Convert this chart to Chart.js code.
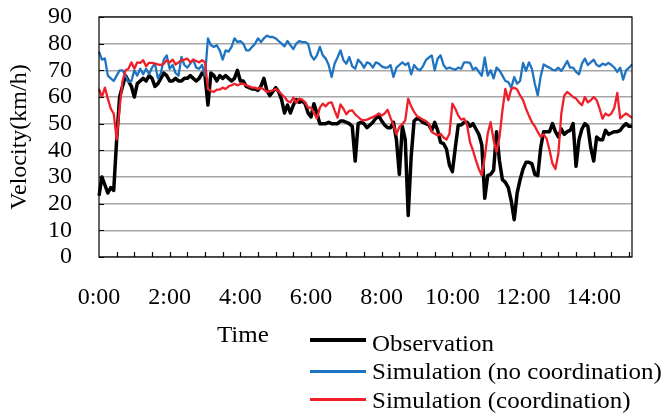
<!DOCTYPE html>
<html>
<head>
<meta charset="utf-8">
<script src="https://cdn.jsdelivr.net/npm/chart.js@4.4.1/dist/chart.umd.min.js"></script>
<style>
  html, body { margin: 0; padding: 0; background: #fff; }
  #wrap { position: relative; width: 666px; height: 414px; font-family: "Liberation Serif", "Times New Roman", serif; }
  #chart { position: absolute; left: 0; top: 0; }
  .lbl { position: absolute; font-size: 24px; line-height: 24px; color: #000; white-space: nowrap; transform-origin: 0 0; transform: scaleX(1.04); }
  .key { position: absolute; left: 310px; width: 56px; }
</style>
</head>
<body>
<div id="wrap">
  <canvas id="chart" width="666" height="414"></canvas>
  <div class="lbl" style="left:217px; top:322px;">Time</div>
  <div class="key" style="top:338px; height:4px; background:#000;"></div>
  <div class="lbl" style="left:372px; top:331px;">Observation</div>
  <div class="key" style="top:370px; height:2.5px; background:#1f74c1;"></div>
  <div class="lbl" style="left:372px; top:359px;">Simulation (no coordination)</div>
  <div class="key" style="top:398px; height:2.5px; background:#f0202a;"></div>
  <div class="lbl" style="left:372px; top:388px;">Simulation (coordination)</div>
</div>
<script>
(function(){
  // one sample every 5 s, 0:00 .. 15:05
  const SAMPLE_SECONDS = 5;
  const TICK_LABELS = ['0:00', '2:00', '4:00', '6:00', '8:00', '10:00', '12:00', '14:00'];
  const LABEL_EVERY = 24;   // samples between labels (2 min)
  const MARK_EVERY = 6;     // samples between tick marks (30 s)
  const Y_TICKS = [0, 10, 20, 30, 40, 50, 60, 70, 80, 90];

  const OBSERVATION = [
    23, 30, 27, 24, 26, 25, 44, 60, 64, 68,
    66, 64, 60, 65, 66, 67, 66, 68, 67, 64,
    65, 67, 69, 68, 66, 66, 67, 66, 66, 67,
    67, 68, 67, 66, 67, 69, 68, 57, 69, 68,
    66, 68, 67, 68, 67, 66, 67, 70, 66, 66,
    64, 63.5, 63, 63, 62.5, 64, 67, 62.5, 60.5, 62,
    63.5, 62, 59, 54, 57, 54, 57, 59, 58, 58.5,
    57.5, 54, 52.5, 57.5, 54, 50, 50, 50, 50.5, 50,
    50, 50, 51, 51, 50.5, 50, 49, 36, 50, 50.5,
    50, 48.5, 49.5, 50.5, 52, 53, 51, 49.5, 48.5, 48.5,
    50.5, 44, 31, 49, 44, 15.6, 37.5, 51, 52, 51.5,
    50.5, 50, 49.5, 47.5, 50.5, 47.5, 43, 42.5, 40.5, 34.5,
    32, 41, 49.5, 49.5, 50.5, 50.5, 49, 50, 48, 46,
    42, 22, 30.5, 31, 32.5, 47, 36, 29, 28, 26,
    21, 14, 24, 29, 33, 35.5, 35.5, 35, 31, 30.5,
    41, 47, 47, 47, 50, 47, 45, 48, 46, 47,
    47.5, 50, 34, 44, 48, 50, 49, 41, 36, 45,
    44, 44, 47.5, 46, 46.5, 47, 47, 47.5, 49, 50,
    49, 49
  ];

  const NO_COORDINATION = [
    77, 74, 74.5, 68, 67, 66, 68, 70, 70, 68,
    65.6, 66, 70, 68, 70.6, 68.5, 70.6, 68.5, 71, 72.5,
    67, 69, 74, 75.6, 70.6, 72, 69, 68, 75, 72,
    71, 72.5, 74, 71, 70.6, 72, 68, 82, 79.4, 78.8,
    79.4, 77.5, 74, 77.5, 77, 78.8, 82, 80.6, 81, 80,
    77.5, 77.5, 78.8, 80, 82, 80.6, 82, 83, 82.5, 82.5,
    82, 81, 80, 79, 81, 79.4, 78, 80, 81, 80.6,
    80.6, 80, 75.6, 74, 75.6, 78.8, 75.6, 74.4, 72, 67.5,
    72.5, 74.8, 77.5, 73.8, 72.5, 75, 71.5, 70.6, 74, 72.8,
    71, 73, 72.5, 71, 73, 72.5, 71.5, 71, 71, 72,
    67.5, 71, 72, 73, 72, 72.8, 68.5, 72, 70.6, 70,
    71.5, 73.8, 74.8, 75.6, 70, 74.4, 75.6, 72, 70.6, 71,
    70.6, 70.2, 71, 70.6, 73, 73, 72.8, 70.2, 71, 69.4,
    68, 74.8, 68, 70, 67, 71, 70, 68, 66, 65.6,
    63.5, 67.5, 65, 66, 72.8, 69.8, 73, 70.6, 65, 60.6,
    67.8, 72.2, 71.5, 71, 70.2, 70, 71, 69.8, 71.5, 73.5,
    71, 71, 69.4, 68.5, 72.5, 74.4, 72, 73, 74, 72,
    71.5, 72.5, 72, 72.8, 72, 71, 69.4, 71, 66.5, 70,
    71, 72.2
  ];

  const COORDINATION = [
    63, 60, 63.5, 59.4, 55.6, 53.8, 44, 56, 66, 70,
    70.6, 73, 70.6, 73, 72.8, 73.8, 71.5, 72.8, 72.8, 72.5,
    72.2, 72, 72.5, 73.8, 73, 74, 72.2, 73, 73.8, 74,
    74.4, 73, 74, 73.5, 73, 73.8, 73, 63, 62.2, 61.9,
    62.8, 62.8, 63.5, 63, 64, 64.4, 65, 64.4, 64.8, 65,
    64.4, 64, 63.5, 63.5, 63, 63.5, 62.8, 61.9, 62.2, 62.5,
    63, 62.2, 61, 60, 58.5, 58, 59.8, 57.8, 59.4, 59,
    58, 56, 56, 54, 52, 56, 57.5, 56.5, 57.8, 58,
    55, 52.2, 57.2, 55.6, 53.5, 54.8, 55, 53.5, 52.5, 51.5,
    51.2, 51.5, 52, 52.5, 53, 53.8, 53, 53.8, 55.2, 52.2,
    49.4, 46, 48.8, 49.8, 51.2, 59.4, 56.5, 54.4, 52.8, 52.2,
    51.5, 51, 50, 46.9, 46.2, 45.6, 46.2, 44.8, 44, 46.2,
    57.5, 55.6, 53, 51.5, 51.9, 49.4, 43, 40, 36.2, 33,
    30.6, 37.5, 46.2, 50.6, 43.8, 39.4, 45, 55, 63, 58.8,
    63, 63.5, 62.8, 60.6, 58.8, 55.6, 53, 50.6, 49, 46.9,
    45, 46, 44.4, 40, 35, 33, 38.8, 53.8, 60.6, 61.9,
    61, 60, 59.4, 58, 56.9, 60, 58, 58.8, 60, 58.8,
    55.6, 51.9, 53.8, 53, 53.8, 56, 61.5, 52, 53, 53.8,
    53, 52.2
  ];

  function timeLabel(i) {
    const s = i * SAMPLE_SECONDS;
    const m = Math.floor(s / 60);
    const ss = s % 60;
    return m + ':' + (ss < 10 ? '0' : '') + ss;
  }

  const CATEGORIES = OBSERVATION.map((_, i) => timeLabel(i));

  // plot frame plus the short inward tick marks
  const frameTicks = {
    id: 'frameTicks',
    afterDatasetsDraw(chart) {
      const ctx = chart.ctx;
      const a = chart.chartArea;
      const xs = chart.scales.x;
      const ys = chart.scales.y;
      ctx.save();
      ctx.strokeStyle = '#000';
      ctx.lineWidth = 1.2;
      ctx.beginPath();
      for (let i = MARK_EVERY; i < CATEGORIES.length; i += MARK_EVERY) {
        const px = Math.round(xs.getPixelForValue(i)) + 0.5;
        ctx.moveTo(px, a.bottom);
        ctx.lineTo(px, a.bottom - 5);
      }
      Y_TICKS.forEach(v => {
        const py = Math.round(ys.getPixelForValue(v)) + 0.5;
        ctx.moveTo(a.left, py);
        ctx.lineTo(a.left + 5, py);
      });
      ctx.stroke();
      ctx.strokeRect(a.left, a.top, a.right - a.left, a.bottom - a.top);
      ctx.restore();
    }
  };

  Chart.defaults.font.family = '"Liberation Serif", "Times New Roman", serif';
  Chart.defaults.font.size = 24;
  Chart.defaults.color = '#000';

  const lineStyle = { pointRadius: 0, tension: 0, fill: false, borderJoinStyle: 'round' };

  new Chart(document.getElementById('chart').getContext('2d'), {
    type: 'line',
    data: {
      labels: CATEGORIES,
      datasets: [
        Object.assign({ label: 'Observation', data: OBSERVATION, borderColor: '#000', borderWidth: 3.5, order: 3 }, lineStyle),
        Object.assign({ label: 'Simulation (no coordination)', data: NO_COORDINATION, borderColor: '#1f74c1', borderWidth: 2.3, order: 2 }, lineStyle),
        Object.assign({ label: 'Simulation (coordination)', data: COORDINATION, borderColor: '#f0202a', borderWidth: 2.3, order: 1 }, lineStyle)
      ]
    },
    options: {
      responsive: false,
      animation: false,
      layout: { padding: { left: 0, right: 34, top: 17, bottom: 0 } },
      plugins: { legend: { display: false }, tooltip: { enabled: false } },
      scales: {
        x: {
          type: 'category',
          offset: false,
          grid: { display: false, drawTicks: false },
          border: { display: false },
          ticks: {
            autoSkip: false,
            maxRotation: 0,
            minRotation: 0,
            padding: 26,
            font: { size: 24 },
            callback: (v, i) => (i % LABEL_EVERY === 0 ? TICK_LABELS[i / LABEL_EVERY] || '' : '')
          },
          afterFit: s => { s.height = 157; }
        },
        y: {
          min: 0,
          max: 90,
          grid: { color: '#a6a6a6', lineWidth: 1.5, drawTicks: false },
          border: { display: false },
          ticks: { stepSize: 10, autoSkip: false, padding: 27, font: { size: 24 } },
          title: {
            display: true,
            text: 'Velocity(km/h)',
            font: { size: 24 },
            padding: { top: 5, bottom: 0 }
          },
          afterFit: s => {
            s.width = 99;
            s.paddingTop = 0;
            s.paddingBottom = 0;
          }
        }
      }
    },
    plugins: [frameTicks]
  });
})();
</script>
</body>
</html>
